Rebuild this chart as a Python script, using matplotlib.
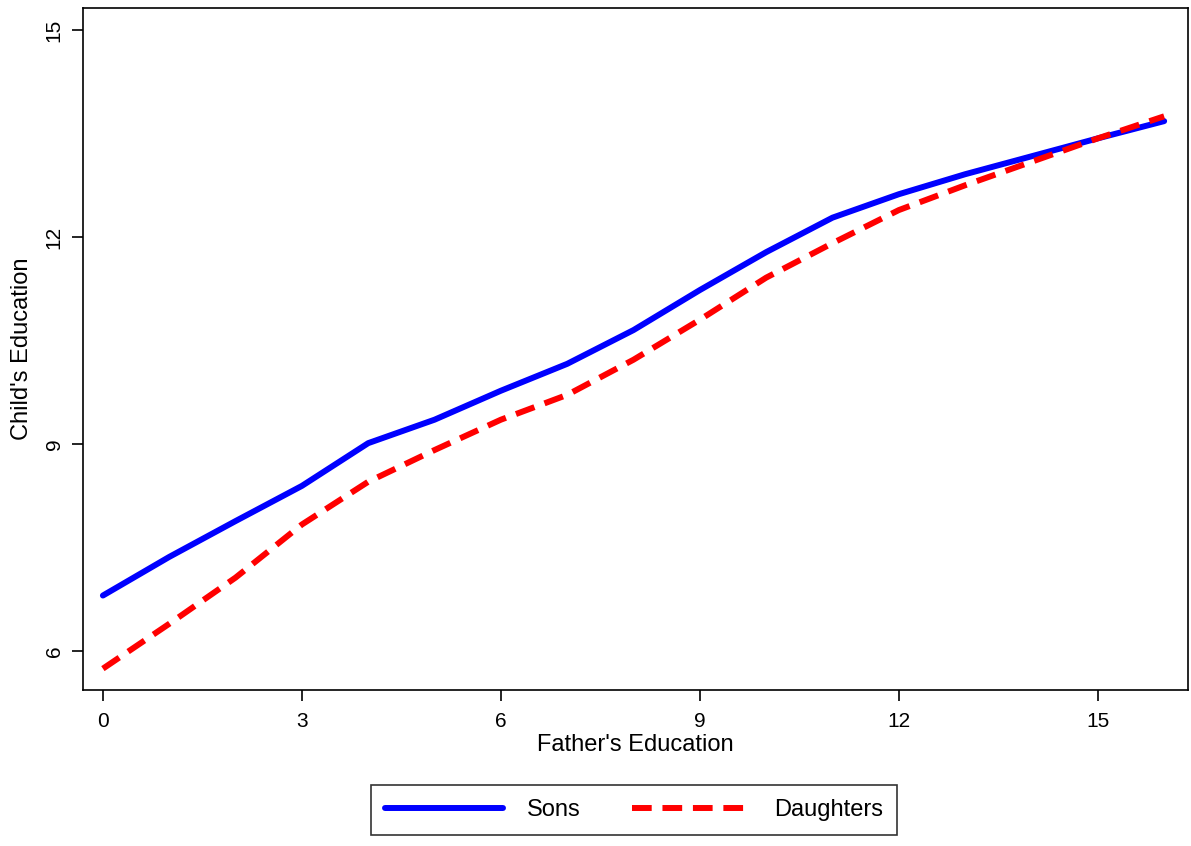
import numpy as np
import matplotlib
matplotlib.use("Agg")
import matplotlib.pyplot as plt

plt.rcParams['font.family'] = ['Liberation Sans', 'DejaVu Sans']

father_educ = [0, 1, 2, 3, 4, 5, 6, 7, 8, 9, 10, 11, 12, 13, 14, 15, 16]
sons = [6.80, 7.36, 7.88, 8.39, 9.01, 9.35, 9.77, 10.16, 10.65, 11.23,
        11.78, 12.28, 12.62, 12.91, 13.17, 13.43, 13.68]
daughters = [5.74, 6.39, 7.06, 7.83, 8.45, 8.91, 9.35, 9.71, 10.22, 10.80,
             11.41, 11.91, 12.39, 12.75, 13.09, 13.43, 13.75]
x_ticks = [0, 3, 6, 9, 12, 15]
y_ticks = [6, 9, 12, 15]

fig = plt.figure(figsize=(11.91, 8.46), dpi=100)
ax = fig.add_axes([0.0697, 0.1844, 0.9278, 0.8061])

ax.plot(father_educ, sons, "-", color="blue", lw=4.3, label="Sons",
        solid_capstyle="round")
ax.plot(father_educ, daughters, "--", color="red", lw=4.3, label="Daughters",
        dashes=(3.3, 1.8))

ax.set_xlim(-0.3, 16.36)
ax.set_ylim(5.43, 15.32)
ax.set_xticks(x_ticks)
ax.set_yticks(y_ticks)
ax.tick_params(axis="both", direction="out", length=8, width=1.2, labelsize=15)
ax.tick_params(axis="x", pad=8)
ax.tick_params(axis="y", pad=6)
for lbl in ax.get_yticklabels():
    lbl.set_rotation(90)
    lbl.set_va("center")
for s in ax.spines.values():
    s.set_linewidth(1.2)

ax.set_xlabel("Father's Education", fontsize=17, labelpad=2)
ax.set_ylabel("Child's Education", fontsize=17, labelpad=8)

leg = fig.legend(loc="center", bbox_to_anchor=(634 / 1191, 1 - 810 / 846),
                 ncol=2, fontsize=17, frameon=True, fancybox=False,
                 edgecolor="black", handlelength=5.0, columnspacing=2.2,
                 borderpad=0.6, handletextpad=1.0)
leg.get_frame().set_linewidth(1.2)

fig.savefig("out.png", dpi=100)
plt.close()
